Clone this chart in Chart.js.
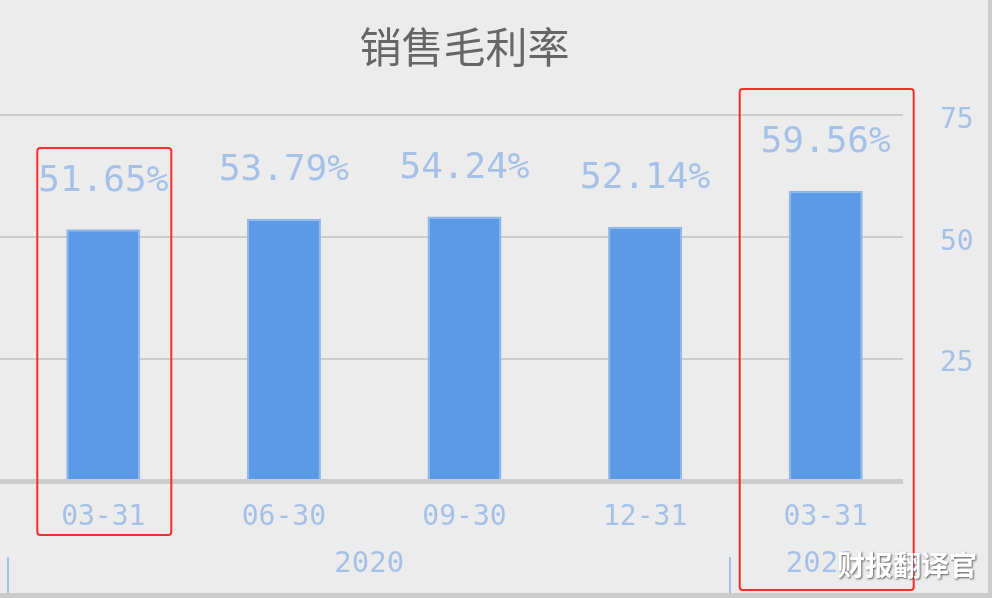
<!DOCTYPE html>
<html>
<head>
<meta charset="utf-8">
<script src="https://cdn.jsdelivr.net/npm/chart.js@4.4.1/dist/chart.umd.min.js"></script>
<style>
  html, body { margin: 0; padding: 0; background: #ececec; overflow: hidden; }
  canvas { display: block; }
</style>
</head>
<body>
<canvas id="margin-chart" width="992" height="598"></canvas>
<script>
"use strict";

const categories = ["03-31", "06-30", "09-30", "12-31", "03-31"];
const years = ["2020", "2020", "2020", "2020", "2021"];
const grossMargin = [51.65, 53.79, 54.24, 52.14, 59.56];
const yTicks = [0, 25, 50, 75];
const highlighted = [0, 4];

const labelBlue = "#a6c1e8";
const gridGray = "#cccccc";
const monoFont = "'DejaVu Sans Mono', 'Liberation Mono', monospace";

// backdrop, grid lines and the bottom/right frame
const backdrop = {
  id: "backdrop",
  beforeDraw(chart) {
    const { ctx, width, height } = chart;
    ctx.save();
    ctx.fillStyle = "#ececec";
    ctx.fillRect(0, 0, width, height);
    ctx.fillStyle = gridGray;
    ctx.fillRect(0, height - 5, width, 5);
    ctx.fillRect(width - 4, 0, 4, height);
    ctx.restore();
  },
  beforeDatasetsDraw(chart) {
    const { ctx } = chart;
    const y = chart.scales.y;
    const right = chart.chartArea.right - 13;
    ctx.save();
    ctx.fillStyle = gridGray;
    yTicks.forEach((v) => {
      if (v === 0) return;
      const py = Math.round(y.getPixelForValue(v));
      ctx.fillRect(0, py - 1, right, 2);
    });
    ctx.restore();
  },
  afterDatasetsDraw(chart) {
    const { ctx } = chart;
    const y = chart.scales.y;
    const right = chart.chartArea.right - 13;
    const py = Math.round(y.getPixelForValue(0));
    ctx.save();
    ctx.fillStyle = gridGray;
    ctx.fillRect(0, py - 2, right, 5);
    ctx.restore();
  },
};

// value labels, year row, red highlight boxes, watermark
const overlay = {
  id: "overlay",
  afterDraw(chart) {
    const { ctx } = chart;
    const x = chart.scales.x;
    const meta = chart.getDatasetMeta(0);
    const band = x.getPixelForValue(1) - x.getPixelForValue(0);

    ctx.save();
    ctx.fillStyle = labelBlue;
    ctx.font = "36px " + monoFont;
    ctx.textAlign = "center";
    ctx.textBaseline = "middle";
    meta.data.forEach((bar, i) => {
      ctx.fillText(grossMargin[i].toFixed(2) + "%", bar.x, bar.y - 48);
    });

    // year groups
    ctx.font = "29px " + monoFont;
    let start = 0;
    for (let i = 1; i <= years.length; i++) {
      if (i === years.length || years[i] !== years[start]) {
        const left = x.getPixelForValue(start) - band / 2;
        const rightEdge = x.getPixelForValue(i - 1) + band / 2;
        ctx.fillStyle = labelBlue;
        ctx.fillText(years[start], (left + rightEdge) / 2 - 5, 564);
        ctx.fillRect(Math.round(left) - 6, 557, 2, 36);
        start = i;
      }
    }

    // highlight boxes
    ctx.strokeStyle = "#ff2a2a";
    ctx.lineWidth = 2;
    const boxes = [
      { l: 66, r: 68, top: 148, bottom: 535 },
      { l: 86, r: 88, top: 89, bottom: 590 },
    ];
    highlighted.forEach((idx, k) => {
      const cx = meta.data[idx].x;
      const b = boxes[k];
      ctx.beginPath();
      ctx.roundRect(cx - b.l, b.top, b.l + b.r, b.bottom - b.top, 3);
      ctx.stroke();
    });

    // watermark
    ctx.font = "bold 28px 'Noto Sans CJK SC', sans-serif";
    ctx.textAlign = "left";
    ctx.shadowColor = "rgba(60,60,60,0.8)";
    ctx.shadowBlur = 2;
    ctx.shadowOffsetX = 1;
    ctx.shadowOffsetY = 1;
    ctx.fillStyle = "#ffffff";
    ctx.fillText("财报翻译官", 837, 565);
    ctx.restore();
  },
};

const chart = new Chart(document.getElementById("margin-chart"), {
  type: "bar",
  data: {
    labels: categories,
    datasets: [
      {
        data: grossMargin,
        backgroundColor: "#5b9ae6",
        borderColor: "#90b7ec",
        borderWidth: 2,
        borderSkipped: "bottom",
        categoryPercentage: 1,
        barPercentage: 0.41,
      },
    ],
  },
  options: {
    responsive: false,
    animation: false,
    layout: { padding: { left: 13, right: 0, top: 0, bottom: 0 } },
    plugins: {
      legend: { display: false },
      tooltip: { enabled: false },
      title: {
        display: true,
        text: "销售毛利率",
        fullSize: false,
        color: "#666666",
        font: { family: "'Noto Sans CJK SC', sans-serif", size: 42, weight: "normal" },
        padding: { top: 22, bottom: 43 },
      },
    },
    scales: {
      x: {
        grid: { display: false, drawTicks: false },
        border: { display: false },
        ticks: {
          color: labelBlue,
          font: { family: monoFont, size: 28 },
          padding: 20,
          maxRotation: 0,
        },
        afterFit(scale) {
          scale.height = 117;
        },
      },
      y: {
        position: "right",
        min: 0,
        max: 75,
        grid: { display: false, drawTicks: false },
        border: { display: false },
        afterBuildTicks(scale) {
          scale.ticks = yTicks.map((v) => ({ value: v }));
        },
        ticks: {
          color: labelBlue,
          font: { family: monoFont, size: 28 },
          padding: 24,
          labelOffset: 5,
          callback: (v) => (v === 0 ? "" : v),
        },
        afterFit(scale) {
          scale.width = 76;
        },
      },
    },
  },
  plugins: [backdrop, overlay],
});
</script>
</body>
</html>
